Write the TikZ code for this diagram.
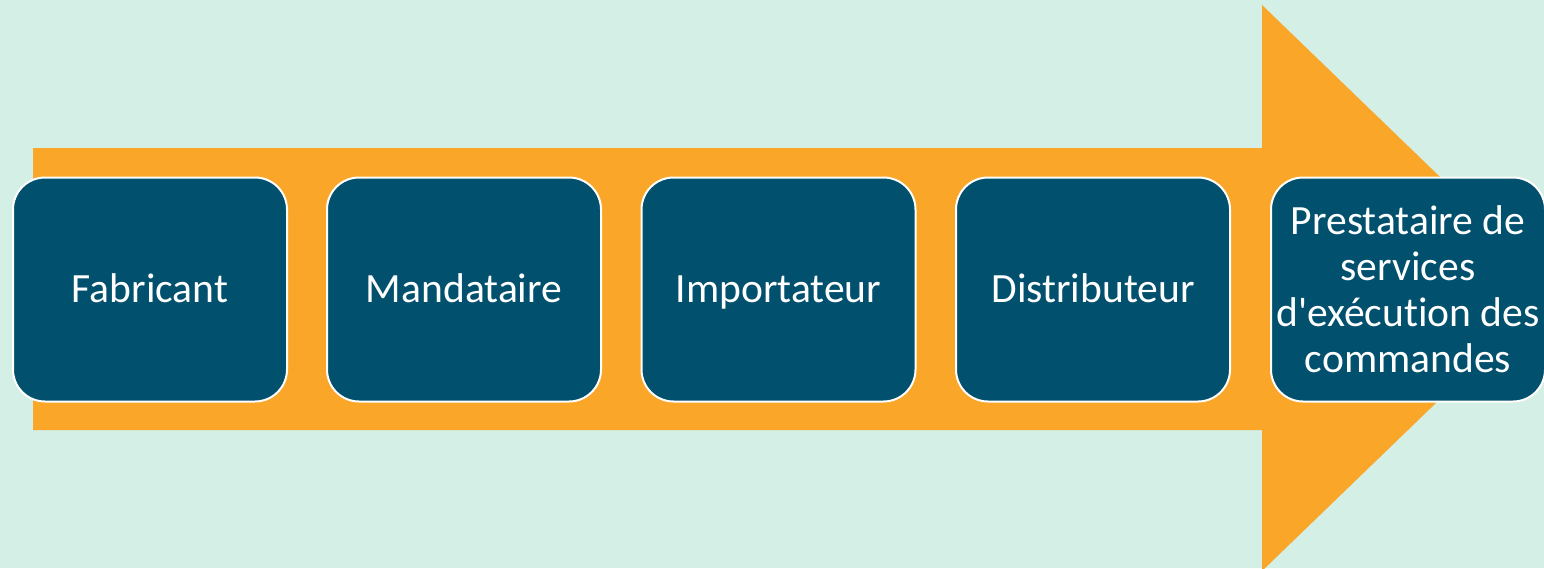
\documentclass[tikz,border=0pt]{standalone}
\usepackage{fontspec}
\setmainfont{Carlito}[Ligatures=NoCommon]
\definecolor{mint}{RGB}{212,239,230}
\definecolor{arroworange}{RGB}{249,166,41}
\definecolor{boxteal}{RGB}{1,80,110}
\begin{document}
\begin{tikzpicture}[x=1pt,y=-1pt,
  stepbox/.style={draw=white, line width=2pt, fill=boxteal, rounded corners=32pt,
    minimum width=274pt, minimum height=224pt, inner sep=0pt, text=white,
    align=center, font=\fontsize{41.6}{46}\selectfont},
  oneline/.style={text height=30pt, text depth=5pt}]
\useasboundingbox (0,0) rectangle (1544,568);
\clip (0,0) rectangle (1544,568);
% background
\fill[mint] (0,0) rectangle (1544,568);
% large process arrow
\fill[arroworange] (33,148) -- (1262,148) -- (1262,5) -- (1555,288)
  -- (1262,571) -- (1262,430) -- (33,430) -- cycle;
% stages
\node[stepbox, oneline] (fab) at (150,289.5) {Fabricant};
\node[stepbox, oneline] (man) at (464,289.5) {Mandataire};
\node[stepbox, oneline] (imp) at (778.5,289.5) {Importateur};
\node[stepbox, oneline] (dis) at (1093,289.5) {Distributeur};
\node[stepbox] (pre) at (1408,289.5) {Prestataire de\\services\\d\textquotesingle exécution des\\commandes};
\end{tikzpicture}
\end{document}
